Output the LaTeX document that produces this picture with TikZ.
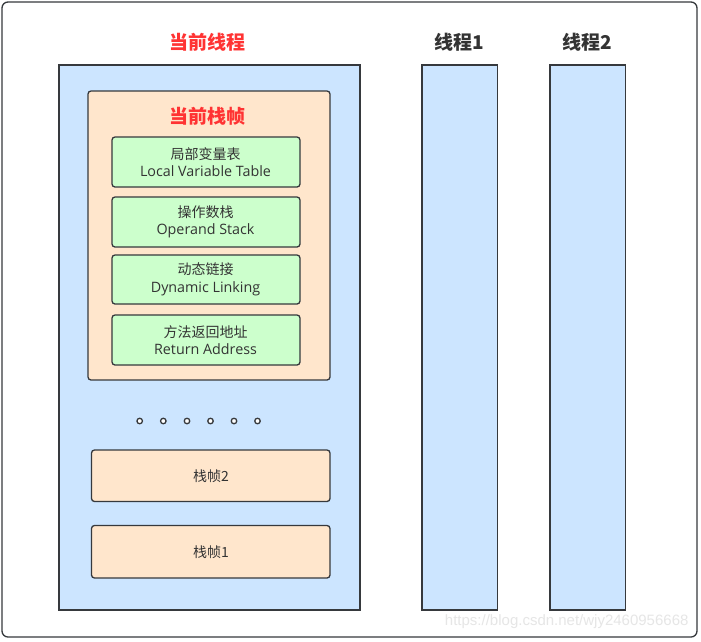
\documentclass[tikz,border=0pt]{standalone}
\usepackage{fontspec}
\setmainfont{Open Sans}
\newfontfamily\cjk{Noto Sans CJK SC}
\newfontfamily\wm{Liberation Sans}
\definecolor{bluefill}{HTML}{CCE5FF}
\definecolor{orangefill}{HTML}{FFE6CC}
\definecolor{greenfill}{HTML}{CCFFCC}
\definecolor{edge}{HTML}{36393D}
\definecolor{titlered}{HTML}{FF3333}
\definecolor{txt}{HTML}{333333}
\definecolor{wmgray}{HTML}{E6E6E6}
\tikzset{
  threadbox/.style={draw=edge, fill=bluefill, line width=1.3pt},
  framebox/.style={draw=edge, fill=orangefill, line width=1.3pt, rounded corners=3pt},
  partbox/.style={draw=edge, fill=greenfill, line width=1.3pt, rounded corners=3pt},
  redtitle/.style={text=titlered, font=\cjk\bfseries\fontsize{19}{21}\selectfont},
  graytitle/.style={text=txt, font=\cjk\bfseries\fontsize{19}{21}\selectfont},
  bodytext/.style={text=txt, font=\fontsize{14.3}{17.4}\selectfont, align=center},
  dot/.style={circle, draw=edge, fill=white, line width=1.3pt, inner sep=0pt, minimum size=5.5pt}
}
\newcommand{\cl}[1]{{\cjk\fontsize{14}{17.4}\selectfont #1}}
\begin{document}
\begin{tikzpicture}[x=1pt,y=-1pt]
\useasboundingbox (0,0) rectangle (701,641);
\fill[white] (0,0) rectangle (701,641);
\draw[edge, line width=1.3pt, rounded corners=6pt, fill=white] (2,2) rectangle (697,637);

% titles
\node[redtitle] (tcur) at (207,42) {当前线程};
\node[graytitle] (t1) at (459,42) {线程1};
\node[graytitle] (t2) at (587,42) {线程2};

% thread columns
\draw[threadbox] (59,65) rectangle (360,610);
\draw[threadbox] (422,65) rectangle (497.5,610);
\draw[threadbox] (550,65) rectangle (625.5,610);

% current frame
\draw[framebox] (88,91) rectangle (330,380);
\node[redtitle] (fcur) at (207,116) {当前栈帧};

\draw[partbox] (112,137) rectangle (300,187);
\node[bodytext] (lvt) at (205.5,162) {\cl{局部变量表}\\Local Variable Table};
\draw[partbox] (112,197) rectangle (300,247);
\node[bodytext] (ops) at (205.5,222) {\cl{操作数栈}\\Operand Stack};
\draw[partbox] (112,255) rectangle (300,304);
\node[bodytext] (dyn) at (205.5,279.5) {\cl{动态链接}\\Dynamic Linking};
\draw[partbox] (112,315) rectangle (300,365);
\node[bodytext] (ret) at (205.5,340) {\cl{方法返回地址}\\Return Address};

% dots
\foreach \i/\x in {1/139.7,2/163.3,3/187,4/210.5,5/234,6/257.5}
  \node[dot] (d\i) at (\x,421) {};

% lower frames
\draw[framebox] (91.5,450) rectangle (330,501.5);
\node[text=txt, font=\cjk\fontsize{14}{17}\selectfont] (f2) at (211,476) {栈帧2};
\draw[framebox] (91.5,525.5) rectangle (330,578);
\node[text=txt, font=\cjk\fontsize{14}{17}\selectfont] (f1) at (211,552) {栈帧1};

% watermark
\node[text=wmgray, font=\wm\fontsize{15}{17}\selectfont, anchor=east] (wmk) at (692,622) {https://blog.csdn.net/wjy2460956668};
\end{tikzpicture}
\end{document}
